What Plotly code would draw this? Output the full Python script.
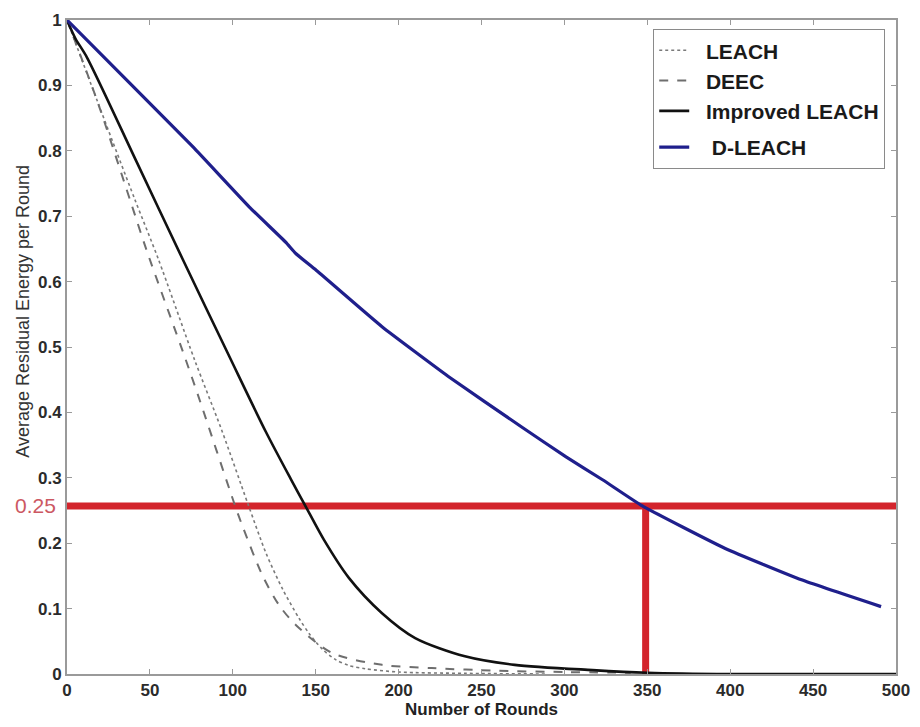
import plotly.graph_objects as go

# ---------------- data ----------------
leach_x = [0, 18, 41, 55, 77, 93, 109, 120, 130, 140, 146, 154, 162, 170, 180, 200, 240, 290]
leach_y = [1.0, 0.878, 0.725, 0.635, 0.480, 0.375, 0.261, 0.185, 0.130, 0.085, 0.062, 0.038, 0.022, 0.013, 0.008, 0.003, 0.001, 0.0]

deec_x = [0, 18, 38, 48, 71, 80, 101, 106, 118, 128, 138, 160, 190, 220, 260, 300, 340]
deec_y = [1.0, 0.878, 0.725, 0.648, 0.485, 0.419, 0.260, 0.225, 0.150, 0.105, 0.075, 0.032, 0.014, 0.009, 0.005, 0.003, 0.002]

improved_x = [0, 5, 12, 42, 70, 98, 120, 135, 144, 155, 170, 190, 210, 240, 270, 317, 350, 400, 500]
improved_y = [1.0, 0.972, 0.943, 0.783, 0.633, 0.485, 0.370, 0.298, 0.256, 0.205, 0.147, 0.093, 0.055, 0.027, 0.014, 0.006, 0.002, 0.0, 0.0]

dleach_x = [0, 38, 76, 110, 132, 138, 150, 190, 230, 274, 301, 323, 347, 397, 443, 491]
dleach_y = [1.0, 0.903, 0.806, 0.714, 0.660, 0.643, 0.618, 0.531, 0.455, 0.378, 0.332, 0.297, 0.257, 0.192, 0.144, 0.103]

series_names = ["LEACH", "DEEC", "Improved LEACH", "D-LEACH"]

ref_level = 0.257      # horizontal marker (labelled 0.25)
ref_level_label = "0.25"
ref_round = 349        # vertical marker

x_ticks = [0, 50, 100, 150, 200, 250, 300, 350, 400, 450, 500]
x_tick_text = ["0", "50", "100", "150", "200", "250", "300", "350", "400", "450", "500"]
y_ticks = [0, 0.1, 0.2, 0.3, 0.4, 0.5, 0.6, 0.7, 0.8, 0.9, 1]
y_tick_text = ["0", "0.1", "0.2", "0.3", "0.4", "0.5", "0.6", "0.7", "0.8", "0.9", "1"]

FONT = "Liberation Sans, Arial, sans-serif"
NB = "\u00a0"
PAD = NB * 2

fig = go.Figure()
fig.add_trace(go.Scatter(x=leach_x, y=leach_y, name=PAD + series_names[0], mode="lines",
                         line=dict(color="#7a7a7a", width=1.6, dash="dot", shape="spline", smoothing=0.8),
                         legendgroup="a"))
fig.add_trace(go.Scatter(x=deec_x, y=deec_y, name=PAD + series_names[1], mode="lines",
                         line=dict(color="#6e6e6e", width=2, dash="dash", shape="spline", smoothing=0.8),
                         legendgroup="a"))
fig.add_trace(go.Scatter(x=improved_x, y=improved_y, name=PAD + series_names[2], mode="lines",
                         line=dict(color="#111111", width=2.6, shape="spline", smoothing=0.8),
                         legendgroup="a"))
fig.add_trace(go.Scatter(x=dleach_x, y=dleach_y, name=PAD + NB + series_names[3], mode="lines",
                         line=dict(color="#1f1f8c", width=3.2, shape="spline", smoothing=0.4),
                         legendgroup="b"))

# red reference lines
fig.add_shape(type="line", xref="x", yref="y", x0=0, x1=500, y0=ref_level, y1=ref_level,
              line=dict(color="#d3242c", width=7), layer="below")
fig.add_shape(type="line", xref="x", yref="y", x0=ref_round, x1=ref_round, y0=0, y1=ref_level,
              line=dict(color="#d3242c", width=7), layer="below")

fig.add_annotation(text=ref_level_label, xref="paper", yref="y", x=-0.0105, y=ref_level,
                   xanchor="right", yanchor="middle", showarrow=False,
                   font=dict(family=FONT, size=21, color="#cc5862"))

fig.add_annotation(text="Average Residual Energy per Round", xref="paper", yref="y",
                   x=-0.053, y=0.554, xanchor="center", yanchor="middle", textangle=-90,
                   showarrow=False, font=dict(family=FONT, size=18, color="#333333"))

axis_common = dict(showgrid=False, zeroline=False, showline=True, linecolor="#9a9a9a", linewidth=2,
                   mirror="ticks", ticks="inside", ticklen=5, tickcolor="#9a9a9a", tickwidth=1,
                   automargin=False, ticklabeloverflow="allow",
                   tickfont=dict(family=FONT, size=17, color="#2b2b2b", weight="bold"))

fig.update_xaxes(range=[0, 500], tickvals=x_ticks, ticktext=x_tick_text,
                 title=dict(text="Number of Rounds", font=dict(family=FONT, size=17, color="#222222", weight="bold"),
                            standoff=9),
                 **axis_common)
fig.update_yaxes(range=[0, 1], tickvals=y_ticks, ticktext=y_tick_text, **axis_common)

# the page body adds an 8px offset, so the figure is sized to fit the 920x727 window
fig.update_layout(
    width=912, height=711,
    margin=dict(l=59, r=24, t=12, b=45),
    paper_bgcolor="white", plot_bgcolor="white",
    font=dict(family=FONT),
    legend=dict(x=0.987, y=0.986, xanchor="right", yanchor="top",
                bgcolor="white", bordercolor="#8a8a8a", borderwidth=1,
                font=dict(family=FONT, size=21, color="#1a1a1a", weight="bold"),
                traceorder="grouped", tracegroupgap=6, itemwidth=30),
    showlegend=True,
)

fig.write_html("out.html")
